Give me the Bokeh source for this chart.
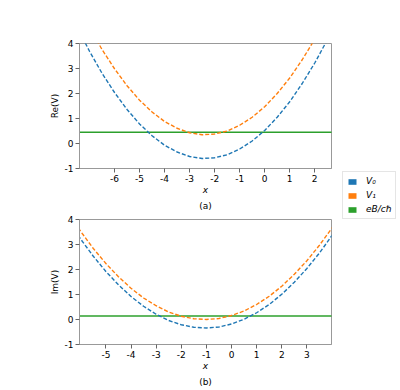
from bokeh.plotting import figure
from bokeh.models import Range1d, FixedTicker, Legend, LegendItem, Title
from bokeh.layouts import column, row
from bokeh.embed import file_html
from bokeh.resources import INLINE

# ---- data: panel (a) ----
xa = [-7.5, -7.0, -6.5, -6.0, -5.5, -5.0, -4.5, -4.0, -3.5, -3.0, -2.5,
      -2.0, -1.5, -1.0, -0.5, 0.0, 0.5, 1.0, 1.5, 2.0, 2.5, 3.0]
re_v0 = [4.66, 3.69, 2.81, 2.04, 1.36, 0.78, 0.31, -0.07, -0.34, -0.52, -0.60,
         -0.57, -0.45, -0.22, 0.10, 0.52, 1.05, 1.67, 2.40, 3.22, 4.14, 5.17]
re_v1 = [5.61, 4.64, 3.76, 2.99, 2.31, 1.73, 1.26, 0.88, 0.61, 0.43, 0.35,
         0.38, 0.50, 0.73, 1.05, 1.47, 2.00, 2.62, 3.35, 4.17, 5.09, 6.12]
xa_line = [-7.5, 3.0]
re_eb = [0.45, 0.45]
xa_ticks = [-6, -5, -4, -3, -2, -1, 0, 1, 2]

# ---- data: panel (b) ----
xb = [-6.5, -6.0, -5.5, -5.0, -4.5, -4.0, -3.5, -3.0, -2.5, -2.0, -1.5, -1.0,
      -0.5, 0.0, 0.5, 1.0, 1.5, 2.0, 2.5, 3.0, 3.5, 4.0, 4.5]
im_v0 = [3.97, 3.21, 2.53, 1.92, 1.39, 0.92, 0.53, 0.21, -0.04, -0.21, -0.31, -0.34,
         -0.30, -0.18, 0.01, 0.27, 0.60, 1.01, 1.49, 2.04, 2.66, 3.36, 4.13]
im_v1 = [4.26, 3.52, 2.84, 2.24, 1.71, 1.25, 0.86, 0.55, 0.30, 0.13, 0.03, 0.00,
         0.04, 0.16, 0.34, 0.60, 0.93, 1.33, 1.81, 2.35, 2.97, 3.66, 4.42]
xb_line = [-6.5, 4.5]
im_eb = [0.14, 0.14]
xb_ticks = [-5, -4, -3, -2, -1, 0, 1, 2, 3]

y_ticks = [-1, 0, 1, 2, 3, 4]
legend_labels = ["V\u2080", "V\u2081", "eB/c\u210f"]

C0, C1, C2 = "#1f77b4", "#ff7f0e", "#2ca02c"
FONT = "DejaVu Sans"


def style(p, xticks, ylabel, caption):
    p.xgrid.visible = False
    p.ygrid.visible = False
    p.outline_line_color = "#999999"
    p.outline_line_width = 1
    p.xaxis.ticker = FixedTicker(ticks=xticks)
    p.yaxis.ticker = FixedTicker(ticks=y_ticks)
    p.xaxis.major_label_overrides = {t: str(t) for t in xticks}
    p.yaxis.major_label_overrides = {t: str(t) for t in y_ticks}
    for ax in (p.xaxis[0], p.yaxis[0]):
        ax.axis_line_color = "#999999"
        ax.major_tick_line_color = "#666666"
        ax.major_tick_out = 4
        ax.major_tick_in = 0
        ax.minor_tick_line_color = None
        ax.major_label_text_font = FONT
        ax.major_label_text_font_size = "9px"
        ax.major_label_text_color = "black"
        ax.major_label_standoff = 2
        ax.axis_label_text_font = FONT
        ax.axis_label_text_font_size = "9px"
        ax.axis_label_text_color = "black"
    p.xaxis.axis_label = "x"
    p.xaxis.axis_label_standoff = 0
    p.xaxis.axis_label_text_font_style = "italic"
    p.yaxis.axis_label = ylabel
    p.yaxis.axis_label_standoff = 2
    p.yaxis.axis_label_text_font_style = "normal"
    p.add_layout(Title(text=caption, align="center", text_font=FONT, text_font_size="9px",
                       text_font_style="normal", text_color="black", standoff=2), "below")


p1 = figure(width=340, height=215, x_range=Range1d(-7.4, 2.67), y_range=Range1d(-1, 4),
            output_backend="svg", toolbar_location=None,
            min_border_left=79, min_border_right=9, min_border_top=43, min_border_bottom=47)
style(p1, xa_ticks, "Re(V)", "(a)")
p1.line(xa_line, re_eb, line_color=C2, line_width=1.5)
p1.line(xa, re_v0, line_color=C0, line_width=1.4, line_dash="4 2")
p1.line(xa, re_v1, line_color=C1, line_width=1.4, line_dash="4 2")

p2 = figure(width=340, height=174, x_range=Range1d(-6.05, 3.98), y_range=Range1d(-1, 4),
            output_backend="svg", toolbar_location=None,
            min_border_left=79, min_border_right=9, min_border_top=4, min_border_bottom=45)
style(p2, xb_ticks, "Im(V)", "(b)")
p2.line(xb_line, im_eb, line_color=C2, line_width=1.5)
p2.line(xb, im_v0, line_color=C0, line_width=1.4, line_dash="4 2")
p2.line(xb, im_v1, line_color=C1, line_width=1.4, line_dash="4 2")

# legend lives in its own narrow figure to the right; zero-size swatch glyphs
pl = figure(width=60, height=389, x_range=Range1d(0, 1), y_range=Range1d(0, 1),
            output_backend="svg", toolbar_location=None,
            x_axis_type=None, y_axis_type=None,
            min_border_left=0, min_border_right=0, min_border_top=0, min_border_bottom=0)
pl.xgrid.visible = False
pl.ygrid.visible = False
pl.outline_line_color = None
sw = [pl.quad(left=[0], right=[0], top=[0], bottom=[0], fill_color=c, line_color=None)
      for c in (C0, C1, C2)]
legend = Legend(items=[LegendItem(label=l, renderers=[r]) for l, r in zip(legend_labels, sw)],
                location=(2, 170), margin=0, padding=4, spacing=4,
                glyph_width=10, glyph_height=7, label_height=10, label_standoff=9,
                label_text_font=FONT, label_text_font_size="9px",
                label_text_font_style="italic", label_text_color="black",
                label_text_baseline="middle",
                border_line_color="#cccccc", border_line_width=1,
                background_fill_color="white", background_fill_alpha=1)
pl.add_layout(legend)

layout = row(column(p1, p2, spacing=0), pl, spacing=0)
open("out.html", "w").write(file_html(layout, INLINE))
